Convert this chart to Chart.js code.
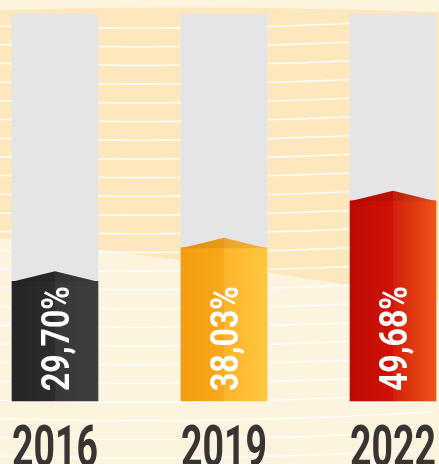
<!DOCTYPE html>
<html><head><meta charset="utf-8">
<script src="https://cdn.jsdelivr.net/npm/chart.js@4"></script>
<style>html,body{margin:0;padding:0;background:#fdf2dd}#wrap{width:439px;height:464px;position:relative}</style>
</head><body><div id="wrap"><canvas id="c"></canvas></div>
<script>
const years = ['2016', '2019', '2022'];
const shares = [29.70, 38.03, 49.68];
const trackLevel = [96, 96, 96];

const palette = [
  ['#252525', '#2c2c2c', '#383838', '#3e3e3e'],
  ['#f59c10', '#f9a91c', '#fdb42c', '#ffc640'],
  ['#bf0902', '#cf1206', '#d2200c', '#ef5418']
];
const BAR_W = 86;
const ROOF = 10;
const FONT = "Roboto, 'DejaVu Sans', sans-serif";

function fmt(v) { return v.toFixed(2).replace('.', ',') + '%'; }

function barFill(ctx) {
  const chart = ctx.chart;
  const c = palette[ctx.dataIndex] || palette[0];
  const xs = chart.scales && chart.scales.x;
  if (!xs || !chart.chartArea || ctx.dataIndex === undefined) return c[1];
  const cx = xs.getPixelForValue(ctx.dataIndex);
  const g = chart.ctx.createLinearGradient(cx - BAR_W / 2, 0, cx + BAR_W / 2, 0);
  g.addColorStop(0, c[0]); g.addColorStop(0.5, c[1]);
  g.addColorStop(0.5, c[2]); g.addColorStop(1, c[3]);
  return g;
}

function squeezedText(c, txt, fs, len) {
  c.font = 'bold ' + fs + 'px ' + FONT;
  const w = c.measureText(txt).width;
  c.scale(len / w, 1);
  c.fillText(txt, 0, 0);
}

const backdrop = {
  id: 'backdrop',
  beforeDraw(chart) {
    const c = chart.ctx, W = chart.width, H = chart.height;
    c.save();
    c.fillStyle = '#fdf3df';
    c.fillRect(0, 0, W, H);
    c.fillStyle = '#fde7bc';
    c.beginPath();
    c.moveTo(0, 10);
    c.quadraticCurveTo(W * 0.45, 4, W, 12);
    c.lineTo(W, 300);
    c.quadraticCurveTo(W * 0.5, 262, 0, 238);
    c.closePath();
    c.fill();
    c.strokeStyle = 'rgba(255,255,255,0.85)';
    c.lineWidth = 1.6;
    for (let y0 = 24; y0 < H + 10; y0 += 18.7) {
      c.beginPath();
      for (let x = 0; x <= W; x += 8) {
        const y = y0 - 1.04e-4 * (x - 140) * (x - 140) + 4;
        if (x === 0) c.moveTo(x, y); else c.lineTo(x, y);
      }
      c.stroke();
    }
    c.restore();
  }
};

const barDecor = {
  id: 'barDecor',
  afterDatasetsDraw(chart) {
    const meta = chart.getDatasetMeta(0);
    const c = chart.ctx;
    const base = chart.scales.y.getPixelForValue(0);
    meta.data.forEach((el, i) => {
      const p = el.getProps(['x', 'y', 'width'], true);
      const half = p.width / 2;
      c.save();
      c.beginPath();
      c.moveTo(p.x - half, p.y + 0.5);
      c.lineTo(p.x, p.y - ROOF);
      c.lineTo(p.x + half, p.y + 0.5);
      c.closePath();
      c.fillStyle = el.options.backgroundColor;
      c.fill();
      c.fillStyle = 'rgba(0,0,0,0.08)';
      c.fill();
      const fs = 39;
      c.translate(p.x + fs * 0.71 / 2, base - 10);
      c.rotate(-Math.PI / 2);
      c.fillStyle = '#ffffff';
      c.textAlign = 'left';
      c.textBaseline = 'alphabetic';
      squeezedText(c, fmt(shares[i]), fs, 105);
      c.restore();
    });
  },
  afterDraw(chart) {
    const xs = chart.scales.x;
    const c = chart.ctx;
    years.forEach((yr, i) => {
      const cx = xs.getPixelForValue(i);
      c.save();
      c.translate(cx - 43, 466);
      c.fillStyle = '#383432';
      c.textAlign = 'left';
      c.textBaseline = 'alphabetic';
      squeezedText(c, yr, 57, 86);
      c.restore();
    });
  }
};

new Chart(document.getElementById('c'), {
  type: 'bar',
  data: {
    labels: years,
    datasets: [
      {
        label: 'Share',
        data: shares,
        backgroundColor: barFill,
        barThickness: BAR_W,
        grouped: false,
        borderSkipped: false,
        clip: false,
        order: 1
      },
      {
        label: 'Track',
        data: trackLevel,
        backgroundColor: '#e5e5e7',
        barThickness: BAR_W,
        grouped: false,
        clip: false,
        order: 2
      }
    ]
  },
  options: {
    responsive: true,
    maintainAspectRatio: false,
    animation: false,
    layout: { padding: { left: 55, right: 46, top: 14, bottom: 63 } },
    plugins: { legend: { display: false }, tooltip: { enabled: false } },
    scales: {
      x: {
        offset: false,
        grid: { display: false, drawTicks: false },
        border: { display: false },
        ticks: { display: false }
      },
      y: { display: false, min: 0, max: 96 }
    }
  },
  plugins: [backdrop, barDecor]
});
</script>
</body></html>
